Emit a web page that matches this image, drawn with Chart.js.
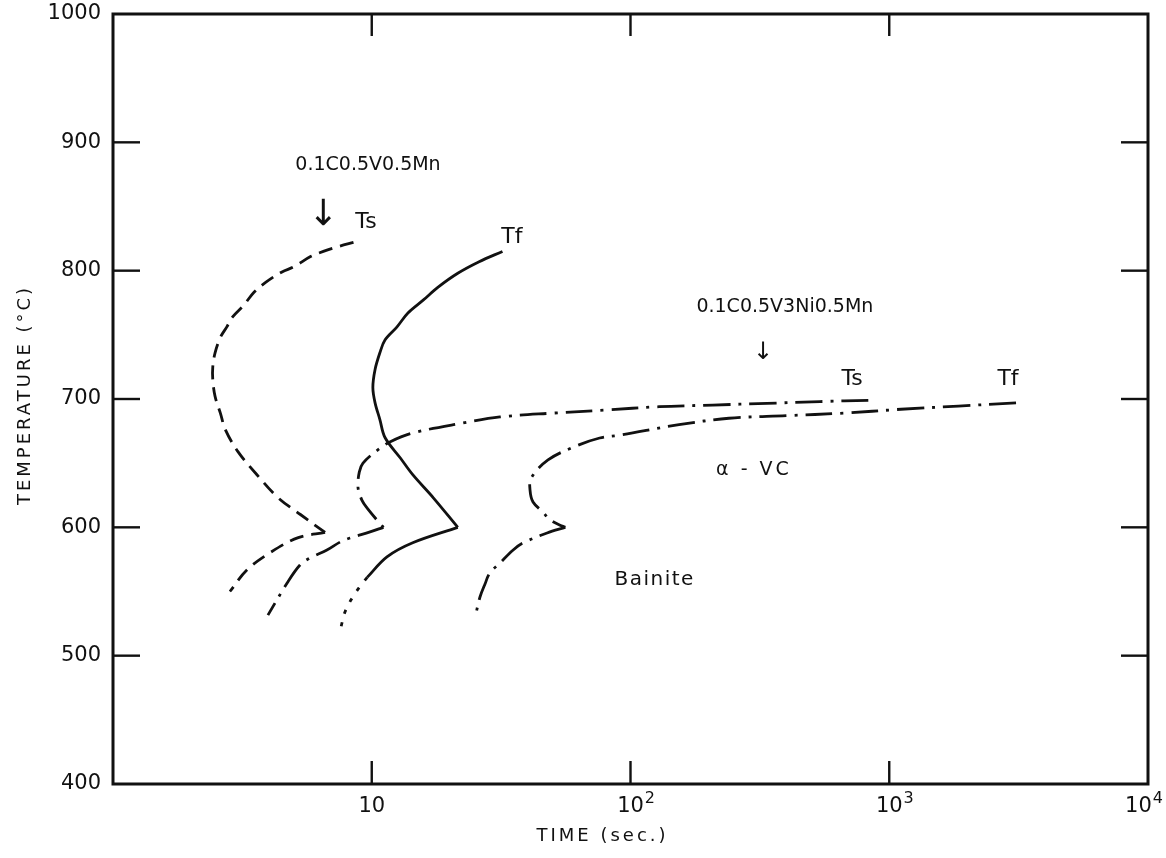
<!DOCTYPE html>
<html>
<head>
<meta charset="utf-8">
<script src="https://cdn.jsdelivr.net/npm/chart.js@4/dist/chart.umd.min.js"></script>
<style>
  html, body { margin: 0; padding: 0; background: #ffffff; }
  #wrap { width: 1166px; height: 858px; }
</style>
</head>
<body>
<div id="wrap"><canvas id="c" width="1166" height="858"></canvas></div>
<script>
// ---------- axis ticks ----------
const xTickValues = [10, 100, 1000, 10000];
const xTickBases = ['10', '10', '10', '10'];
const xTickExponents = ['', '2', '3', '4'];
const yTickValues = [400, 500, 600, 700, 800, 900, 1000];
const innerXTicks = [10, 100, 1000];
const innerYTicks = [500, 600, 700, 800, 900];

// ---------- 0.1C0.5V0.5Mn : Ts (dashed) ----------
const mnTsUpperTime = [8.5, 7.5, 6.5, 5.8, 5.0, 4.5, 3.9, 3.5, 3.2, 2.9, 2.75, 2.6, 2.48, 2.43, 2.43, 2.48, 2.6, 2.72, 3.04, 3.6, 4.35, 5.3, 6.6];
const mnTsUpperTemp = [822, 819, 815, 811, 803, 799, 791, 783, 773, 764, 756, 748, 736, 725, 715, 702, 689, 676, 659, 641, 623, 610, 596];
const mnTsLowerTime = [6.6, 5.2, 4.1, 3.3, 2.83];
const mnTsLowerTemp = [596, 592, 581, 567, 550];

// ---------- 0.1C0.5V0.5Mn : Tf (solid) ----------
const mnTfUpperTime = [32, 26, 21.5, 18, 15.8, 13.8, 12.5, 11.25, 10.75, 10.3, 10.1, 10.3, 10.75, 11.25, 12.9, 14.4, 17.3, 21.5];
const mnTfUpperTemp = [815, 807, 798, 787, 777, 767, 756, 746, 736, 723, 709, 697, 684, 670, 654, 641, 623, 600];
const mnTfLowerTime = [21.5, 14.4, 11.45, 9.6];
const mnTfLowerTemp = [600, 588, 577, 561];
const mnTfTailTime = [9.6, 9.17, 8.46, 7.88, 7.6];
const mnTfTailTemp = [561, 556, 546, 534, 522];

// ---------- 0.1C0.5V3Ni0.5Mn : Ts (dash-dot) ----------
const niTsUpperTime = [830, 540, 337, 208, 129, 80, 50, 31.3, 22.5, 14.4, 11.8, 10.5, 9.25, 8.95, 8.85, 9.17, 9.6, 10.75, 11.1];
const niTsUpperTemp = [699, 698, 696.6, 695.3, 694, 691.4, 689, 686, 681.3, 673.5, 666.7, 660, 650, 643, 631, 621, 615, 603, 600];
const niTsLowerTime = [11.1, 9.85, 8.24, 7.54, 6.71, 5.77, 5.28, 4.71, 3.97];
const niTsLowerTemp = [600, 596.4, 591.7, 588.5, 582.3, 576.1, 570.6, 556.6, 531.6];

// ---------- 0.1C0.5V3Ni0.5Mn : Tf (dash-dot) ----------
const niTfUpperTime = [3090, 1850, 1110, 665, 400, 240, 154, 92, 76, 61, 48, 41.3, 40.9, 42, 45.7, 49, 54.4, 56];
const niTfUpperTemp = [697, 694.5, 692, 689, 687, 685, 680, 672, 669.6, 663, 652.5, 638.4, 629, 619.7, 612.2, 605.7, 601, 600];
const niTfLowerTime = [56, 47.6, 38.4, 35.2, 31.3, 28.6, 27.4, 26.2, 25.1];
const niTfLowerTemp = [600, 595.6, 587.8, 582.3, 572.2, 564.4, 555.9, 545.7, 530];

// ---------- annotation texts (anchored in data coordinates) ----------
const noteTexts = ['0.1C0.5V0.5Mn', '↓', 'Ts', 'Tf', '0.1C0.5V3Ni0.5Mn', '↓', 'Ts', 'Tf', 'α - VC', 'Bainite'];
const noteTimes = [9.67, 6.48, 9.5, 34.8, 395, 325, 718, 2877, 300, 124];
const noteTemps = [882, 843, 838, 826, 772, 736, 715, 715, 645, 559];
const noteSizes = [19, 36, 22, 22, 19, 24, 22, 22, 19, 20];
const noteSpacing = [0, 0, 0, 0, 0, 0, 0, 0, 3, 1.5];

const INK = '#111111';
const FONT = '"DejaVu Sans", "Liberation Sans", sans-serif';
const DASHED = [14, 8];
const DASHDOT = [27, 8, 3, 8];
const DOTTED = [4, 9];

function pts(ts, Ts) { return ts.map((t, i) => ({ x: t, y: Ts[i] })); }
function curve(ts, Ts, dash) {
  return {
    data: pts(ts, Ts),
    showLine: true,
    borderColor: INK,
    borderWidth: 2.8,
    borderDash: dash,
    pointRadius: 0,
    pointHoverRadius: 0,
    tension: 0.35,
    fill: false
  };
}

const framePlugin = {
  id: 'frame',
  afterDatasetsDraw(chart) {
    const { ctx, chartArea: a, scales: { x, y }, width } = chart;
    ctx.save();
    ctx.strokeStyle = INK;
    ctx.fillStyle = INK;
    ctx.setLineDash([]);
    ctx.lineWidth = 3;
    ctx.strokeRect(a.left, a.top, a.right - a.left, a.bottom - a.top);
    ctx.lineWidth = 2.4;
    const seg = (x1, y1, x2, y2) => { ctx.beginPath(); ctx.moveTo(x1, y1); ctx.lineTo(x2, y2); ctx.stroke(); };
    innerYTicks.forEach(v => {
      const py = y.getPixelForValue(v);
      seg(a.left, py, a.left + 27, py);
      seg(a.right, py, a.right - 27, py);
    });
    innerXTicks.forEach(v => {
      const px = x.getPixelForValue(v);
      seg(px, a.bottom, px, a.bottom - 23);
      seg(px, a.top, px, a.top + 22);
    });

    // x tick labels: 10, 10^2, 10^3, 10^4 (kept inside the canvas)
    xTickValues.forEach((v, i) => {
      let px = x.getPixelForValue(v);
      const base = a.bottom + 28;
      ctx.textBaseline = 'alphabetic';
      ctx.font = '21px ' + FONT;
      const w = ctx.measureText(xTickBases[i]).width;
      ctx.font = '16px ' + FONT;
      const we = xTickExponents[i] ? ctx.measureText(xTickExponents[i]).width + 1 : 0;
      const overflow = px + w / 2 + we - (width - 3);
      if (overflow > 0) px -= overflow;
      ctx.textAlign = 'center';
      ctx.font = '21px ' + FONT;
      ctx.fillText(xTickBases[i], px, base);
      if (xTickExponents[i]) {
        ctx.textAlign = 'left';
        ctx.font = '16px ' + FONT;
        ctx.fillText(xTickExponents[i], px + w / 2 + 1, base - 9);
      }
    });

    ctx.textAlign = 'center';
    ctx.textBaseline = 'middle';
    noteTexts.forEach((txt, i) => {
      ctx.font = noteSizes[i] + 'px ' + FONT;
      ctx.letterSpacing = noteSpacing[i] + 'px';
      ctx.fillText(txt, x.getPixelForValue(noteTimes[i]), y.getPixelForValue(noteTemps[i]));
    });

    // axis titles
    ctx.font = '18px ' + FONT;
    ctx.letterSpacing = '3px';
    ctx.fillText('TIME (sec.)', (a.left + a.right) / 2 - 28, 836);
    ctx.save();
    ctx.translate(25, (a.top + a.bottom) / 2 - 4);
    ctx.rotate(-Math.PI / 2);
    ctx.fillText('TEMPERATURE (°C)', 0, 0);
    ctx.restore();
    ctx.letterSpacing = '0px';
    ctx.restore();
  }
};

new Chart(document.getElementById('c'), {
  type: 'scatter',
  data: {
    datasets: [
      curve(mnTsUpperTime, mnTsUpperTemp, DASHED),
      curve(mnTsLowerTime, mnTsLowerTemp, DASHED),
      curve(mnTfUpperTime, mnTfUpperTemp, []),
      curve(mnTfLowerTime, mnTfLowerTemp, []),
      curve(mnTfTailTime, mnTfTailTemp, DOTTED),
      curve(niTsUpperTime, niTsUpperTemp, DASHDOT),
      curve(niTsLowerTime, niTsLowerTemp, DASHDOT),
      curve(niTfUpperTime, niTfUpperTemp, DASHDOT),
      curve(niTfLowerTime, niTfLowerTemp, DASHDOT)
    ]
  },
  options: {
    responsive: false,
    animation: false,
    devicePixelRatio: 1,
    events: [],
    layout: { padding: { top: 14, right: 18, left: 0, bottom: 0 } },
    plugins: { legend: { display: false }, tooltip: { enabled: false } },
    scales: {
      x: {
        type: 'logarithmic',
        min: 1, max: 10000,
        position: 'bottom',
        grid: { display: false, drawTicks: false },
        border: { display: false },
        afterBuildTicks: s => { s.ticks = xTickValues.map(v => ({ value: v })); },
        ticks: { display: false, autoSkip: false, maxRotation: 0, minRotation: 0 },
        afterFit: s => { s.height = 74; s.paddingLeft = 0; s.paddingRight = 0; }
      },
      y: {
        type: 'linear',
        min: 400, max: 1000,
        grid: { display: false, drawTicks: false },
        border: { display: false },
        afterBuildTicks: s => { s.ticks = yTickValues.map(v => ({ value: v })); },
        ticks: {
          padding: 12, color: INK,
          font: { family: FONT, size: 21 },
          callback: v => String(v)
        },
        afterFit: s => { s.width = 113; s.paddingTop = 0; s.paddingBottom = 0; }
      }
    }
  },
  plugins: [framePlugin]
});
</script>
</body>
</html>
